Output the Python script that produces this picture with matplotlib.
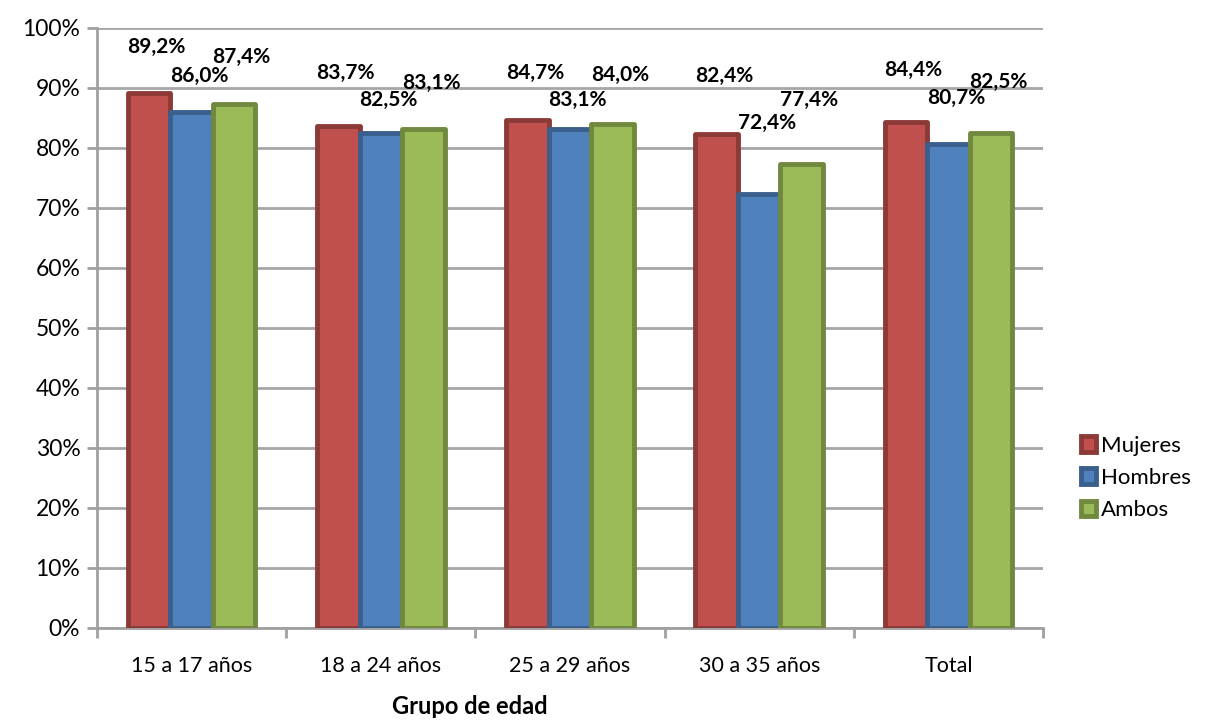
import numpy as np
import matplotlib.pyplot as plt
from matplotlib.ticker import FixedLocator, NullFormatter, PercentFormatter

plt.rcParams['font.family'] = ['Lato', 'DejaVu Sans']

grupos = ['15 a 17 años', '18 a 24 años', '25 a 29 años', '30 a 35 años', 'Total']
series = ['Mujeres', 'Hombres', 'Ambos']
mujeres = [89.2, 83.7, 84.7, 82.4, 84.4]
hombres = [86.0, 82.5, 83.1, 72.4, 80.7]
ambos = [87.4, 83.1, 84.0, 77.4, 82.5]

# where the labels sit (in % units), as drawn in the original
lab_mujeres = [96.8, 92.5, 92.5, 92.0, 93.0]
lab_hombres = [92.0, 88.0, 88.0, 84.2, 88.3]
lab_ambos = [95.2, 90.8, 92.2, 88.0, 91.0]

fills = ['#C0504D', '#4F81BD', '#9BBB59']
edges = ['#8C3A38', '#3A5F8C', '#71893F']

fig = plt.figure(figsize=(12.06, 7.23), dpi=100)
ax = fig.add_axes([97 / 1206, 1 - 628 / 723, (1043 - 97) / 1206, 600 / 723])

x = np.arange(len(grupos))
w = 0.225
vals = [mujeres, hombres, ambos]
labs = [lab_mujeres, lab_hombres, lab_ambos]
for i in range(3):
    xs = x + (i - 1) * w
    ax.bar(xs, vals[i], width=w, color=fills[i], edgecolor=edges[i],
           linewidth=3.5, joinstyle='round', label=series[i], zorder=3)
    for xi, v, ly in zip(xs, vals[i], labs[i]):
        ax.text(xi + 0.04, ly, f'{v:.1f}%'.replace('.', ','), ha='center', va='center',
                fontsize=15, fontweight='bold', zorder=4)

ax.set_xlim(-0.5, len(grupos) - 0.5)
ax.set_ylim(0, 100)
ax.yaxis.set_major_locator(FixedLocator(np.arange(0, 101, 10)))
ax.yaxis.set_major_formatter(PercentFormatter(decimals=0))
ax.set_xticks(x)
ax.set_xticklabels(grupos)
ax.xaxis.set_minor_locator(FixedLocator(np.arange(-0.5, len(grupos), 1)))
ax.xaxis.set_minor_formatter(NullFormatter())
ax.tick_params(axis='x', which='major', length=0, labelsize=15.5, pad=20)
ax.tick_params(axis='x', which='minor', length=7, width=2, color='#A0A0A0')
ax.tick_params(axis='y', length=7, width=2, color='#A0A0A0', labelsize=16.5, pad=5)

ax.grid(axis='y', color='#A6A6A6', linewidth=2, zorder=0)
ax.set_axisbelow(True)
for s in ['top', 'right']:
    ax.spines[s].set_visible(False)
for s in ['left', 'bottom']:
    ax.spines[s].set_color('#A0A0A0')
    ax.spines[s].set_linewidth(2)

ax.set_xlabel('Grupo de edad', fontsize=17, fontweight='bold', labelpad=14)
ax.xaxis.label.set_x((470 - 97) / 946)

leg = fig.legend(loc='center left', bbox_to_anchor=(1072 / 1206, 1 - 478 / 723), frameon=False,
                 fontsize=16, handlelength=0.7, handleheight=0.7, handletextpad=0.2,
                 labelspacing=0.55, borderaxespad=0)

plt.savefig('out.png', dpi=100, facecolor='white')
